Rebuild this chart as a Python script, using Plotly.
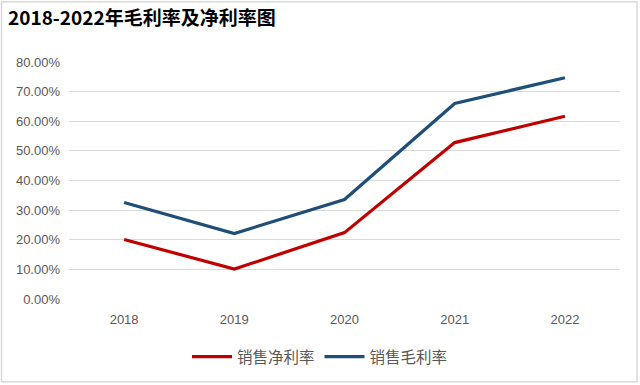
import plotly.graph_objects as go

years = ["2018", "2019", "2020", "2021", "2022"]
net_margin = [0.201, 0.101, 0.224, 0.528, 0.617]
gross_margin = [0.326, 0.221, 0.336, 0.660, 0.747]
series_names = ["销售净利率", "销售毛利率"]
title_text = "2018-2022年毛利率及净利率图"
y_ticks = [0, 0.1, 0.2, 0.3, 0.4, 0.5, 0.6, 0.7, 0.8]

W, H = 640, 385
ml, mr, mt, mb = 69, 20, 62, 85
pw, ph = W - ml - mr, H - mt - mb

font_family = "Noto Sans CJK SC, Liberation Sans, sans-serif"

fig = go.Figure()
fig.add_trace(go.Scatter(x=years, y=net_margin, mode="lines", name=series_names[0],
                         line=dict(color="#C00000", width=3.2)))
fig.add_trace(go.Scatter(x=years, y=gross_margin, mode="lines", name=series_names[1],
                         line=dict(color="#1F4E79", width=3.2)))

# outer border
fig.add_shape(type="rect", xref="paper", yref="paper",
              x0=(1.5 - ml) / pw, x1=(637 - ml) / pw,
              y0=-(383 - (H - mb)) / ph, y1=1 + (mt - 1.5) / ph,
              line=dict(color="#D9D9D9", width=1.5), layer="below")

fig.update_layout(
    width=W, height=H,
    margin=dict(l=ml, r=mr, t=mt, b=mb),
    paper_bgcolor="white", plot_bgcolor="white",
    font=dict(family=font_family, color="#595959", size=12),
    title=dict(text="<b>" + title_text + "</b>", x=8 / W, xanchor="left",
               y=1 - 18 / H, yanchor="middle",
               font=dict(size=19, color="#000000", family=font_family)),
    showlegend=True,
    legend=dict(orientation="h", x=(320 - ml) / pw, xanchor="center", y=-(357 - 300) / ph,
                yanchor="middle",
                font=dict(size=15.5, color="#595959"), itemwidth=40, tracegroupgap=0,
                bgcolor="rgba(0,0,0,0)"),
    xaxis=dict(type="category", showgrid=False, showline=False, zeroline=False,
               ticks="", ticklabelstandoff=11,
               tickfont=dict(size=13, color="#595959", family="Liberation Sans"),
               range=[-0.5, 4.5]),
    yaxis=dict(range=[0, 0.8], tickvals=y_ticks, tickformat=".2%", showgrid=True,
               gridcolor="#D9D9D9", gridwidth=1, zeroline=False, showline=False,
               ticks="", ticklabelstandoff=8,
               tickfont=dict(size=13, color="#595959", family="Liberation Sans")),
)

fig.write_html("out.html", config={"displayModeBar": False},
               post_script="document.body.style.margin='0';document.body.style.overflow='hidden';")
